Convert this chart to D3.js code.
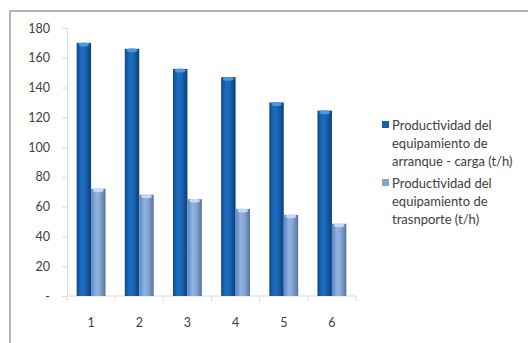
<!DOCTYPE html>
<html>
  <head>
    <meta charset="utf-8">
    <script src="https://d3js.org/d3.v7.min.js"></script>
    <style>
      body { margin: 0; background: #fff; }
      text { font-family: Lato, "Open Sans", sans-serif; fill: #404040; }
    </style>
  </head>
  <body>
    <svg width="528" height="343"></svg>
    <script>
      const categories = ['1', '2', '3', '4', '5', '6'];
      const arranque = [170, 166, 152.5, 147, 130, 124.5];
      const transporte = [72, 68, 65, 58.5, 54.5, 48.5];
      const seriesNames = [
        ['Productividad del', 'equipamiento de', 'arranque - carga (t/h)'],
        ['Productividad del', 'equipamiento de', 'trasnporte (t/h)']
      ];
      const yTicks = [0, 20, 40, 60, 80, 100, 120, 140, 160, 180];

      const svg = d3.select('svg');

      // outer frame
      svg.append('rect')
          .attr('x', 10).attr('y', 11)
          .attr('width', 530).attr('height', 340)
          .attr('fill', 'none')
          .attr('stroke', '#b4b4b4')
          .attr('stroke-width', 2);

      const defs = svg.append('defs');
      const grad = (id, stops) => {
        const g = defs.append('linearGradient').attr('id', id)
          .attr('x1', 0).attr('x2', 1).attr('y1', 0).attr('y2', 0);
        stops.forEach(([o, c]) => g.append('stop').attr('offset', o).attr('stop-color', c));
      };
      grad('dark', [[0, '#0d4a8c'], [0.35, '#1e6ec2'], [0.6, '#1a64b4'], [1, '#0b3f7a']]);
      grad('light', [[0, '#5d86c0'], [0.35, '#8fb2e0'], [0.6, '#85a8d8'], [1, '#58719c']]);

      const x = d3.scaleBand()
        .domain(categories)
        .range([67, 356])
        .paddingInner(0.4)
        .paddingOuter(0.2);
      const xSub = d3.scaleBand()
        .domain([0, 1])
        .range([0, x.bandwidth()]);
      const y = d3.scaleLinear()
        .domain([0, 180])
        .range([296, 28]);

      // axes
      const yAxis = d3.axisLeft(y)
        .tickValues(yTicks)
        .tickSize(5)
        .tickPadding(12)
        .tickFormat(d => d === 0 ? '-' : d);
      const yG = svg.append('g').attr('transform', 'translate(67,0)').call(yAxis);
      yG.select('.domain').attr('stroke', '#e2dcd4');
      yG.selectAll('.tick line').attr('stroke', '#e2dcd4');
      yG.selectAll('.tick text').attr('font-size', 12.5).attr('fill', '#404040');

      const xStep = x.step();
      const xLine = svg.append('g');
      xLine.append('line')
          .attr('x1', 67).attr('x2', 356)
          .attr('y1', y(0)).attr('y2', y(0))
          .attr('stroke', '#e2dcd4');
      xLine.selectAll('line.tk').data(d3.range(7))
        .enter().append('line')
          .attr('class', 'tk')
          .attr('x1', i => 67 + i * xStep).attr('x2', i => 67 + i * xStep)
          .attr('y1', y(0)).attr('y2', y(0) + 5)
          .attr('stroke', '#e2dcd4');
      svg.append('g').selectAll('text').data(categories)
        .enter().append('text')
          .attr('x', d => x(d) + x.bandwidth() / 2)
          .attr('y', 327)
          .attr('text-anchor', 'middle')
          .attr('font-size', 12.5)
          .text(d => d);

      // bars
      const series = [
        { values: arranque, fill: 'url(#dark)', cap: '#4d97dc' },
        { values: transporte, fill: 'url(#light)', cap: '#c4d8f0' }
      ];
      series.forEach((s, si) => {
        const g = svg.append('g');
        g.selectAll('rect').data(categories)
          .enter().append('rect')
            .attr('x', d => x(d) + xSub(si))
            .attr('y', (d, i) => y(s.values[i]))
            .attr('width', xSub.bandwidth())
            .attr('height', (d, i) => y(0) - y(s.values[i]))
            .attr('fill', s.fill);
        g.selectAll('ellipse').data(categories)
          .enter().append('ellipse')
            .attr('cx', d => x(d) + xSub(si) + xSub.bandwidth() / 2)
            .attr('cy', (d, i) => y(s.values[i]) + 1.5)
            .attr('rx', xSub.bandwidth() / 2 - 2)
            .attr('ry', 2)
            .attr('fill', s.cap);
      });

      // legend
      const legendColors = ['#1a5fa8', '#7fa3d4'];
      const legend = svg.append('g').attr('transform', 'translate(382,125)');
      seriesNames.forEach((lines, i) => {
        const g = legend.append('g').attr('transform', `translate(0,${i * 58})`);
        g.append('rect')
            .attr('x', 0).attr('y', -4)
            .attr('width', 7).attr('height', 7)
            .attr('fill', legendColors[i]);
        lines.forEach((t, j) => {
          g.append('text')
              .attr('x', 10)
              .attr('y', j * 18)
              .attr('dy', '0.35em')
              .attr('font-size', 13)
              .attr('fill', '#333')
              .text(t);
        });
      });
    </script>
  </body>
</html>
